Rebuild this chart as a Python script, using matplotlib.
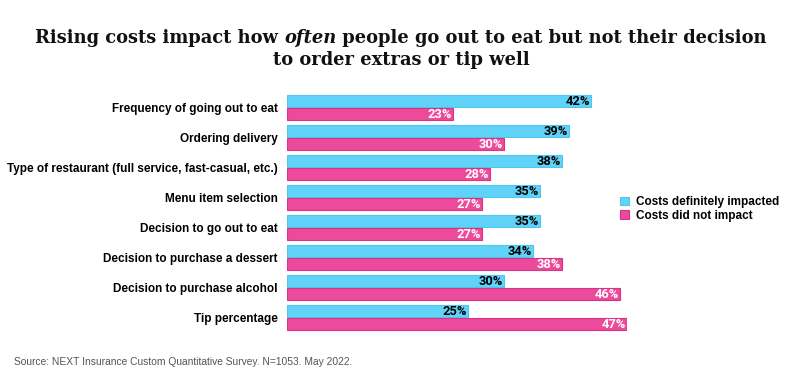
import matplotlib
matplotlib.use("Agg")
import matplotlib.pyplot as plt
import numpy as np

categories = [
    "Frequency of going out to eat",
    "Ordering delivery",
    "Type of restaurant (full service, fast-casual, etc.)",
    "Menu item selection",
    "Decision to go out to eat",
    "Decision to purchase a dessert",
    "Decision to purchase alcohol",
    "Tip percentage",
]
impacted = [42, 39, 38, 35, 35, 34, 30, 25]
not_impacted = [23, 30, 28, 27, 27, 38, 46, 47]
series_names = ["Costs definitely impacted", "Costs did not impact"]

BLUE = "#61D3F8"
BLUE_EDGE = "#4FC6EE"
PINK = "#EC4A9A"
PINK_EDGE = "#D93386"

W, H = 802, 379
fig = plt.figure(figsize=(W / 100, H / 100), dpi=100)
ax = fig.add_axes([287 / W, 1 - 332.5 / H, (627 - 287) / W, 240 / H])

y = np.arange(len(categories))
off = 0.217
hgt = 0.40
ax.barh(y - off, impacted, height=hgt, color=BLUE, edgecolor=BLUE_EDGE, linewidth=0.8,
        label=series_names[0])
ax.barh(y + off, not_impacted, height=hgt, color=PINK, edgecolor=PINK_EDGE, linewidth=0.8,
        label=series_names[1])
ax.set_xlim(0, 47)
ax.set_ylim(len(categories) - 0.5, -0.5)

for i, (a, b) in enumerate(zip(impacted, not_impacted)):
    ax.text(a - 0.15, i - off + 0.02, f"{a}%", ha="right", va="center", fontsize=9.3,
            fontweight="bold", family="Roboto", color="black")
    ax.text(b - 0.15, i + off + 0.02, f"{b}%", ha="right", va="center", fontsize=9.3,
            fontweight="bold", family="Roboto", color="white")

ax.set_yticks(y)
ax.set_yticklabels(categories, fontsize=8.5, fontweight="bold", family="Liberation Sans")
ax.tick_params(axis="y", length=0, pad=6.5)
ax.set_xticks([])
for s in ax.spines.values():
    s.set_visible(False)

leg = fig.legend(loc="upper left", bbox_to_anchor=(620 / W, 1 - 196 / H), frameon=False,
                 prop={"family": "Liberation Sans", "weight": "bold", "size": 8.5},
                 handlelength=0.75, handleheight=0.75, handletextpad=0.6,
                 labelspacing=0.15, borderaxespad=0, borderpad=0)

fig.text(14 / W, 1 - 362 / H, "Source: NEXT Insurance Custom Quantitative Survey. N=1053. May 2022.",
         fontsize=7.35, color="#555555", family="Liberation Sans", va="center")

# Title with italic word
tfont = dict(family="DejaVu Serif", weight="bold", size=12.9, color="#111111")
parts = [("Rising costs impact how ", "normal"), ("often", "italic"),
         (" people go out to eat but not their decision", "normal")]
fig.canvas.draw()
r = fig.canvas.get_renderer()
texts = []
widths = []
for s, st in parts:
    t = fig.text(0, 1 - 38 / H, s, style=st, va="center", ha="left", **tfont)
    bb = t.get_window_extent(renderer=r)
    texts.append(t)
    widths.append(bb.width)
total = sum(widths)
x0 = (W - total) / 2
for t, w in zip(texts, widths):
    t.set_x(x0 / W)
    x0 += w
fig.text(0.5, 1 - 60 / H, "to order extras or tip well", ha="center", va="center", **tfont)

fig.savefig("out.png", dpi=100)
